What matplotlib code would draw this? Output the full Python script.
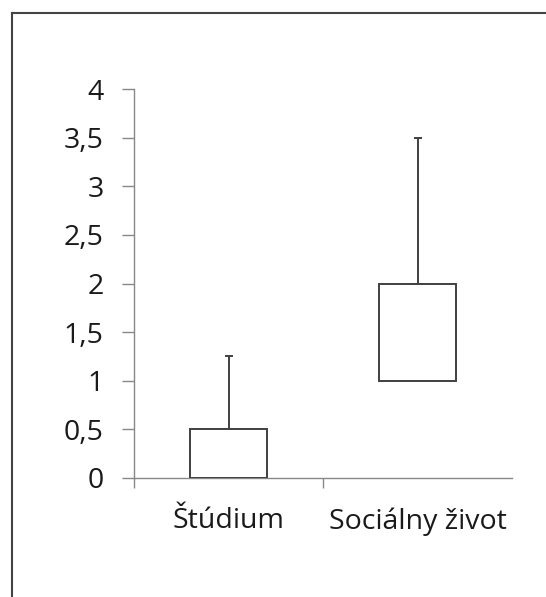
import matplotlib.pyplot as plt
from matplotlib.lines import Line2D

plt.rcParams["font.family"] = ["Open Sans", "DejaVu Sans"]

categories = ["Štúdium", "Sociálny život"]
box_low = [0, 1]
box_high = [0.5, 2]
whisker_high = [1.25, 3.5]
y_ticks = [0, 0.5, 1, 1.5, 2, 2.5, 3, 3.5, 4]
y_labels = ["0", "0,5", "1", "1,5", "2", "2,5", "3", "3,5", "4"]

fig = plt.figure(figsize=(5.46, 5.97), dpi=100)
ax = fig.add_axes([134 / 546, 1 - 478 / 597, 378 / 546, 389 / 597])

box_col = "#404040"
axis_col = "#888888"
x = list(range(len(categories)))
heights = [h - l for h, l in zip(box_high, box_low)]
ax.bar(x, heights, bottom=box_low, width=0.41, color="white",
       edgecolor=box_col, linewidth=1.4, zorder=3)
up = [w - h for w, h in zip(whisker_high, box_high)]
ax.errorbar(x, box_high, yerr=[[0] * len(x), up], fmt="none",
            ecolor=box_col, elinewidth=1.4, capsize=3, capthick=1.4, zorder=2)

ax.set_xlim(-0.5, 1.5)
ax.set_ylim(0, 4)
ax.set_yticks(y_ticks)
ax.set_yticklabels(y_labels)
ax.set_xticks([-0.5, 0.5])
ax.set_xticklabels(["", ""])
ax.set_xticks(x, minor=True)
ax.set_xticklabels(categories, minor=True)

for s in ["top", "right"]:
    ax.spines[s].set_visible(False)
for s in ["left", "bottom"]:
    ax.spines[s].set_color(axis_col)
    ax.spines[s].set_linewidth(1.0)
ax.tick_params(axis="y", direction="out", length=9, width=1.0, color=axis_col,
               labelsize=20.5, pad=13, labelcolor="#1a1a1a")
ax.tick_params(axis="x", which="major", direction="out", length=7.5, width=1.0,
               color=axis_col)
ax.tick_params(axis="x", which="minor", length=0, labelsize=20.5, pad=21,
               labelcolor="#1a1a1a")

# frame around picture (only top and left are visible in the crop)
fig.add_artist(Line2D([12 / 546, 12 / 546], [0, 1 - 13 / 597],
                      transform=fig.transFigure, color="#444444", linewidth=1.5))
fig.add_artist(Line2D([12 / 546, 1], [1 - 13 / 597, 1 - 13 / 597],
                      transform=fig.transFigure, color="#444444", linewidth=1.5))

fig.savefig("out.png", dpi=100)
